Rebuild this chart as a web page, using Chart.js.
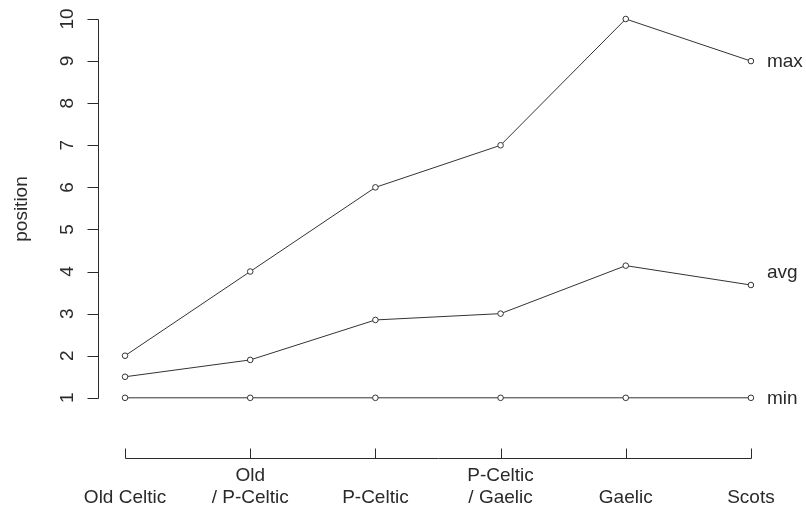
<!DOCTYPE html>
<html>
<head>
<meta charset="utf-8">
<script src="https://cdn.jsdelivr.net/npm/chart.js@4.4.1/dist/chart.umd.min.js"></script>
<style>
  html, body { margin: 0; padding: 0; background: #fff; }
  #wrap { width: 806px; height: 506px; }
</style>
</head>
<body>
<div id="wrap"><canvas id="posChart" width="806" height="506"></canvas></div>
<script>
// categories (two-line labels where the name is long)
const categories = [
  ['Old Celtic'],
  ['Old', '/ P-Celtic'],
  ['P-Celtic'],
  ['P-Celtic', '/ Gaelic'],
  ['Gaelic'],
  ['Scots']
];
const maxPos = [2, 4, 6, 7, 10, 9];
const avgPos = [1.5, 1.9, 2.85, 3.0, 4.14, 3.68];
const minPos = [1, 1, 1, 1, 1, 1];
const yTicks = [1, 2, 3, 4, 5, 6, 7, 8, 9, 10];
const seriesNames = ['max', 'avg', 'min'];

const INK = '#2a2a2a';
const FONT = '19px "Liberation Sans", Arial, sans-serif';

const toXY = arr => arr.map((v, i) => ({ x: i, y: v }));

function lineSet(name, values) {
  return {
    label: name,
    data: toXY(values),
    borderColor: '#333',
    borderWidth: 1,
    pointRadius: 2.8,
    pointBorderWidth: 1,
    pointBackgroundColor: '#fff',
    pointBorderColor: '#333',
    tension: 0,
    clip: false
  };
}

// base-graphics style axes, drawn by hand
const rAxes = {
  id: 'rAxes',
  afterDraw(chart) {
    const { ctx, chartArea, scales: { x, y } } = chart;
    ctx.save();
    ctx.strokeStyle = INK;
    ctx.fillStyle = INK;
    ctx.lineWidth = 1;
    ctx.font = FONT;

    // y axis
    const ax = Math.round(chartArea.left) + 0.5;
    const yTop = Math.round(y.getPixelForValue(yTicks[yTicks.length - 1])) + 0.5;
    const yBot = Math.round(y.getPixelForValue(yTicks[0])) + 0.5;
    ctx.beginPath();
    ctx.moveTo(ax, yTop);
    ctx.lineTo(ax, yBot);
    yTicks.forEach(t => {
      const py = Math.round(y.getPixelForValue(t)) + 0.5;
      ctx.moveTo(ax, py);
      ctx.lineTo(ax - 11, py);
    });
    ctx.stroke();
    ctx.textAlign = 'center';
    ctx.textBaseline = 'alphabetic';
    yTicks.forEach(t => {
      const py = y.getPixelForValue(t);
      ctx.save();
      ctx.translate(ax - 26, py);
      ctx.rotate(-Math.PI / 2);
      ctx.fillText(String(t), 0, 0);
      ctx.restore();
    });
    ctx.save();
    ctx.translate(27, 209);
    ctx.rotate(-Math.PI / 2);
    ctx.fillText('position', 0, 0);
    ctx.restore();

    // x axis, ticks pointing up
    const by = Math.round(chartArea.bottom) + 0.5;
    const x0 = Math.round(x.getPixelForValue(0)) + 0.5;
    const x1 = Math.round(x.getPixelForValue(categories.length - 1)) + 0.5;
    ctx.beginPath();
    ctx.moveTo(x0, by);
    ctx.lineTo(x1, by);
    categories.forEach((c, i) => {
      const px = Math.round(x.getPixelForValue(i)) + 0.5;
      ctx.moveTo(px, by);
      ctx.lineTo(px, by - 10);
    });
    ctx.stroke();
    categories.forEach((lines, i) => {
      const px = x.getPixelForValue(i);
      lines.forEach((txt, k) => {
        const py = by + 44 - (lines.length - 1 - k) * 22;
        ctx.fillText(txt, px, py);
      });
    });

    // series names at the right end
    ctx.textAlign = 'left';
    ctx.textBaseline = 'middle';
    const nudge = [1, -12, 1];
    chart.data.datasets.forEach((ds, i) => {
      const last = ds.data[ds.data.length - 1];
      ctx.fillText(seriesNames[i], x.getPixelForValue(last.x) + 16, y.getPixelForValue(last.y) + nudge[i]);
    });
    ctx.restore();
  }
};

new Chart(document.getElementById('posChart'), {
  type: 'line',
  data: {
    datasets: [lineSet('max', maxPos), lineSet('avg', avgPos), lineSet('min', minPos)]
  },
  options: {
    responsive: false,
    animation: false,
    layout: { padding: { left: 98, right: 5, top: 19, bottom: 48 } },
    scales: {
      x: { type: 'linear', min: -0.216, max: 5.4, display: false },
      y: { type: 'linear', min: -0.43, max: 10, display: false }
    },
    plugins: {
      legend: { display: false },
      tooltip: { enabled: false }
    }
  },
  plugins: [rAxes]
});
</script>
</body>
</html>
